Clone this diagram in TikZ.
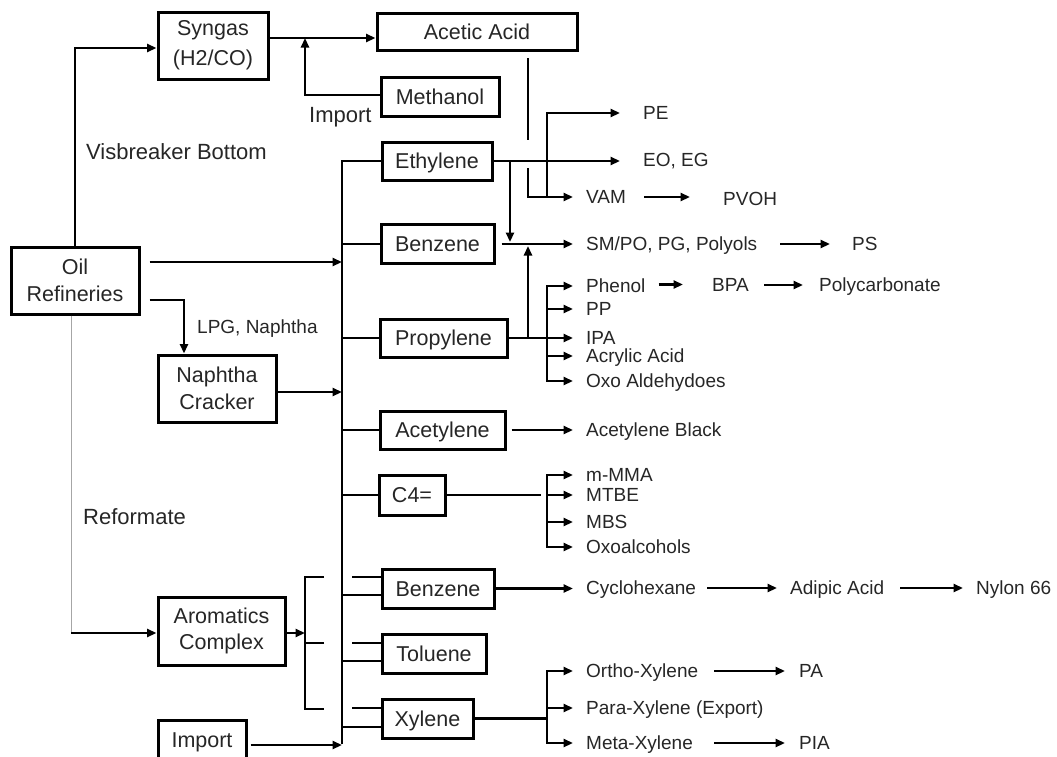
\documentclass[tikz,border=0pt]{standalone}
\usepackage{fontspec}
\setmainfont{Liberation Sans}
\usetikzlibrary{arrows.meta}
\begin{document}
\begin{tikzpicture}[x=1pt,y=-1pt,
  ln/.style={line width=2.7pt},
  arr/.style={line width=2.7pt,-{Triangle[length=9.5pt,width=8pt]}},
  boxa/.style={draw,line width=3pt,inner sep=0pt,text=black!85,font=\fontsize{21.5}{26}\selectfont,text height=15.5pt,text depth=0pt},
  boxb/.style={draw,line width=3pt,inner sep=0pt,text=black!85,font=\fontsize{21.5}{26.5}\selectfont,align=center},
  prod/.style={anchor=west,inner sep=0pt,text=black!85,font=\fontsize{19}{22}\selectfont,text height=13.6pt,text depth=0pt},
  lab/.style={anchor=west,inner sep=0pt,text=black!85,font=\fontsize{22}{26}\selectfont,text height=15.75pt,text depth=0pt}]
\clip (0,0) rectangle (1057,756);
% boxes
\node[boxb,minimum width=110pt,minimum height=67pt,font=\fontsize{21.5}{30}\selectfont] (syngas) at (213,45.5) {Syngas\\(H2/CO)};
\node[boxa,minimum width=200pt,minimum height=37pt] (acetic) at (477,31.5) {Acetic Acid};
\node[boxa,minimum width=118pt,minimum height=39pt] (methanol) at (440,96.5) {Methanol};
\node[boxa,minimum width=110pt,minimum height=38pt] (ethylene) at (437,161) {Ethylene};
\node[boxa,minimum width=113pt,minimum height=39pt] (benzene1) at (437.5,244) {Benzene};
\node[boxa,minimum width=127pt,minimum height=38pt] (propylene) at (443.5,338) {Propylene};
\node[boxa,minimum width=125pt,minimum height=38pt] (acetylene) at (442.5,430) {Acetylene};
\node[boxa,minimum width=66pt,minimum height=40pt] (c4) at (412,495) {C4=};
\node[boxa,minimum width=112pt,minimum height=39pt] (benzene2) at (438,588.5) {Benzene};
\node[boxa,minimum width=104pt,minimum height=39pt] (toluene) at (434,653.5) {Toluene};
\node[boxa,minimum width=91pt,minimum height=39pt] (xylene) at (427.5,718.5) {Xylene};
\node[boxb,minimum width=128pt,minimum height=67pt] (oil) at (75,280.5) {Oil\\Refineries};
\node[boxb,minimum width=118pt,minimum height=67pt] (naphtha) at (217,388.5) {Naphtha\\Cracker};
\node[boxb,minimum width=127pt,minimum height=68pt] (aromatics) at (221.5,631) {Aromatics\\Complex};
\node[boxa,minimum width=88pt,minimum height=39pt] (import) at (202,739.5) {Import};
% side labels
\node[lab] (visb) at (86,152) {Visbreaker Bottom};
\node[lab] (reform) at (83,517) {Reformate};
\node[lab] (imptxt) at (309,115) {Import};
\node[prod] (lpg) at (197,327) {LPG, Naphtha};
% products
\node[prod] (pe) at (643,113) {PE};
\node[prod] (eoeg) at (643,160) {EO, EG};
\node[prod] (vam) at (586,197) {VAM};
\node[prod] (pvoh) at (723,199) {PVOH};
\node[prod] (smpo) at (586,244) {SM/PO, PG, Polyols};
\node[prod] (ps) at (852,244) {PS};
\node[prod] (phenol) at (586,286) {Phenol};
\node[prod] (bpa) at (712,285) {BPA};
\node[prod] (polyc) at (819,285) {Polycarbonate};
\node[prod] (pp) at (586,309) {PP};
\node[prod] (ipa) at (586,338) {IPA};
\node[prod] (acrylic) at (586,356) {Acrylic Acid};
\node[prod] (oxo) at (586,381) {Oxo Aldehydoes};
\node[prod] (acblack) at (586,430) {Acetylene Black};
\node[prod] (mmma) at (586,475) {m-MMA};
\node[prod] (mtbe) at (586,495) {MTBE};
\node[prod] (mbs) at (586,522) {MBS};
\node[prod] (oxoal) at (586,547) {Oxoalcohols};
\node[prod] (cyclo) at (586,588) {Cyclohexane};
\node[prod] (adipic) at (790,588) {Adipic Acid};
\node[prod] (nylon) at (976,588) {Nylon 66};
\node[prod] (ortho) at (586,671) {Ortho-Xylene};
\node[prod] (pa) at (799,671) {PA};
\node[prod] (para) at (586,708) {Para-Xylene (Export)};
\node[prod] (meta) at (586,743) {Meta-Xylene};
\node[prod] (pia) at (799,743) {PIA};
% helper coordinates
\coordinate (busx) at (342,0);
\coordinate (busbot) at (342,744);
\coordinate (bx) at (547,0);
\coordinate (ux) at (528,0);
\coordinate (ex) at (510,0);
\coordinate (lpgx) at (184,0);
\coordinate (refx) at (71,0);
\coordinate (brx) at (305,0);
\coordinate (br1) at (324,577);
\coordinate (br2) at (324,643);
\coordinate (br3) at (324,709);
\coordinate (impj) at (305,38);
\coordinate (aa1) at (528,58);
\coordinate (aa2) at (528,140);
\coordinate (aa3) at (528,168);
% left side
\draw[arr] (oil.north) |- ([yshift=-2.5pt]syngas.west);
\draw[arr] ([yshift=7.5pt]syngas.east) -- ([yshift=7.5pt]syngas.east -| acetic.west);
\draw[arr] ([yshift=1.5pt]methanol.west) -| (impj);
\draw[arr,shorten <=9pt] ([yshift=18.5pt]oil.east) -- ([yshift=18.5pt]oil.east -| busx);
\draw[arr,shorten <=9pt] ([yshift=-19.5pt]oil.east) -| (naphtha.north -| lpgx);
\draw[arr] ([yshift=-3.5pt]naphtha.east) -- ([yshift=-3.5pt]naphtha.east -| busx);
\draw[gray!70,line width=1pt] (oil.south -| refx) -- ([yshift=-2pt]aromatics.west -| refx);
\draw[arr] ([yshift=-2pt]aromatics.west -| refx) -- ([yshift=-2pt]aromatics.west);
\draw[arr] ([yshift=-2pt]aromatics.east) -- ([yshift=-2pt]aromatics.east -| brx);
\draw[ln] (br1) -| (brx |- br3) -- (br3);
\draw[ln] (br2) -- (br2 -| brx);
\draw[arr,shorten <=3pt] ([yshift=-5.5pt]import.east) -- ([yshift=-5.5pt]import.east -| busx);
% bus
\draw[ln] (ethylene.west) -| (busbot);
\draw[ln] (benzene1.west) -- (benzene1.west -| busx);
\draw[ln] (propylene.west) -- (propylene.west -| busx);
\draw[ln] (acetylene.west) -- (acetylene.west -| busx);
\draw[ln] (c4.west) -- (c4.west -| busx);
\draw[ln] ([yshift=-6.5pt]benzene2.west) -- ([yshift=-6.5pt]benzene2.west -| busx);
\draw[ln] ([yshift=-7.5pt]toluene.west) -- ([yshift=-7.5pt]toluene.west -| busx);
\draw[ln] ([yshift=-8.5pt]xylene.west) -- ([yshift=-8.5pt]xylene.west -| busx);
\draw[ln] ([yshift=11.5pt]benzene2.west) -- ++(-29,0);
\draw[ln] ([yshift=10.5pt]toluene.west) -- ++(-29,0);
\draw[ln] ([yshift=10.5pt]xylene.west) -- ++(-29,0);
% ethylene / acetic
\draw[ln] (aa1) -- (aa2);
\draw[arr,shorten >=13pt] (aa3) |- (vam.west);
\draw[arr,shorten >=23pt] (vam.west -| bx) |- (pe.west);
\draw[arr,shorten >=23pt] (ethylene.east) -- (ethylene.east -| eoeg.west);
\draw[arr] (ethylene.east -| ex) -- ([yshift=2pt]smpo.west -| ex);
\draw[arr,shorten <=6pt,shorten >=13pt] (benzene1.east) -- (benzene1.east -| smpo.west);
\draw[arr] (propylene.east -| ux) -- ([yshift=-2pt]smpo.west -| ux);
% propylene
\draw[ln] (propylene.east) -- (propylene.east -| bx);
\foreach \n in {phenol,pp,ipa,acrylic,oxo}
  \draw[arr,shorten >=13pt] (propylene.east -| bx) |- (\n.west);
% acetylene
\draw[arr,shorten <=5pt,shorten >=13pt] (acetylene.east) -- (acetylene.east -| acblack.west);
% C4
\draw[ln] (c4.east) -- ([xshift=-6pt]c4.east -| bx);
\foreach \n in {mmma,mtbe,mbs,oxoal}
  \draw[arr,shorten >=13pt] (c4.east -| bx) |- (\n.west);
% benzene2
\draw[arr,shorten >=13pt] (benzene2.east) -- (benzene2.east -| cyclo.west);
% xylene
\draw[ln] (xylene.east) -- (xylene.east -| bx);
\foreach \n in {ortho,para,meta}
  \draw[arr,shorten >=13pt] (xylene.east -| bx) |- (\n.west);
% product chains
\draw[arr,shorten <=18pt,shorten >=33pt] (vam.east) -- (vam.east -| pvoh.west);
\draw[arr,shorten <=23pt,shorten >=22pt] (smpo.east) -- (smpo.east -| ps.west);
\draw[arr,shorten <=13pt,shorten >=29pt] ([yshift=1.5pt]phenol.east) -- ([yshift=1.5pt]phenol.east -| bpa.west);
\draw[arr,shorten <=15pt,shorten >=16pt] (bpa.east) -- (polyc.west);
\draw[arr,shorten <=11pt,shorten >=13pt] (cyclo.east) -- (adipic.west);
\draw[arr,shorten <=16pt,shorten >=13pt] (adipic.east) -- (nylon.west);
\draw[arr,shorten <=16pt,shorten >=14pt] (ortho.east) -- (pa.west);
\draw[arr,shorten <=21pt,shorten >=14pt] (meta.east) -- (pia.west);
\end{tikzpicture}
\end{document}
